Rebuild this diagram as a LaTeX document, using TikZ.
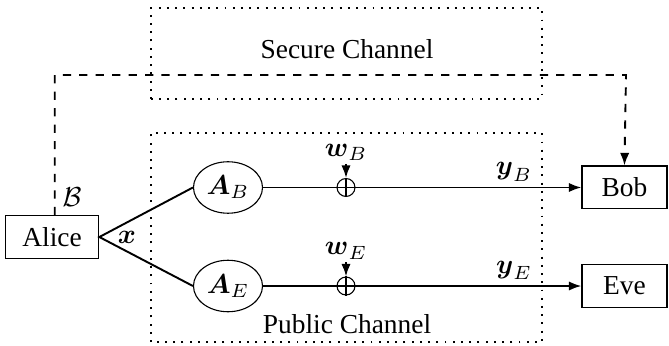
\documentclass[tikz,border=0pt]{standalone}
\usepackage{amsmath}
\usepackage{fontspec}
\setmainfont{Liberation Serif}
\usetikzlibrary{arrows.meta,positioning,shapes,calc}

\begin{document}
\begin{tikzpicture}[>={Latex[length=4.6pt,width=3.4pt]},on grid,
  blk/.style={draw,rectangle,minimum width=1.2cm,minimum height=0.55cm},
  mat/.style={draw,ellipse,minimum width=0.885cm,minimum height=0.66cm,inner sep=1pt},
  add/.style={draw,circle,minimum size=0.23cm,inner sep=0pt},
  link/.style={line width=0.7pt},
  chan/.style={draw,line width=0.7pt,dash pattern=on 0.7pt off 2.3pt}]
  \useasboundingbox (0,0) rectangle (8.577,4.436);
  % channels
  \path[chan] (1.936,3.167) rectangle (6.949,4.333);
  \path[chan] (1.936,0.051) rectangle (6.949,2.731);
  \node (sec) at (4.449,3.808) {Secure Channel};
  \node (pub) at (4.449,0.282) {Public Channel};
  % users
  \node[blk] (alice) at (0.667,1.397) {Alice};
  \node[blk,minimum width=1.09cm] (bob) at (8.006,2.032) {Bob};
  \node[blk,minimum width=1.09cm] (eve) at (8.006,0.769) {Eve};
  \node[mat] (AB) at (2.923,2.032) {$\boldsymbol{A}_B$};
  \node[mat] (AE) at (2.923,0.769) {$\boldsymbol{A}_E$};
  \node[add] (pB) at (4.436,2.032) {};
  \node[add] (pE) at (4.436,0.769) {};
  \node[inner sep=1pt] (wB) [above=0.45cm of pB] {$\boldsymbol{w}_B$};
  \node[inner sep=1pt] (wE) [above=0.45cm of pE] {$\boldsymbol{w}_E$};
  \node (yB) at (6.59,2.23) {$\boldsymbol{y}_B$};
  \node (yE) at (6.59,0.97) {$\boldsymbol{y}_E$};
  \node (x) at (1.628,1.397) {$\boldsymbol{x}$};
  \node (key) at (0.923,1.91) {$\mathcal{B}$};
  \coordinate (turn) at (8.026,3.474);
  % links
  \draw[link] (AB.west) -- (alice.east) -- (AE.west);
  \draw[link,->] (AB.east) -- (bob.west);
  \draw[link,->] (AE.east) -- (eve.west);
  \draw (pB.north) -- (pB.south) (pE.north) -- (pE.south);
  \draw[link,->] (wB.south) -- (pB.north);
  \draw[link,->] (wE.south) -- (pE.north);
  \draw[link,dashed,->] ([xshift=1pt]alice.north) |- (turn) -- (bob.north);
\end{tikzpicture}
\end{document}
